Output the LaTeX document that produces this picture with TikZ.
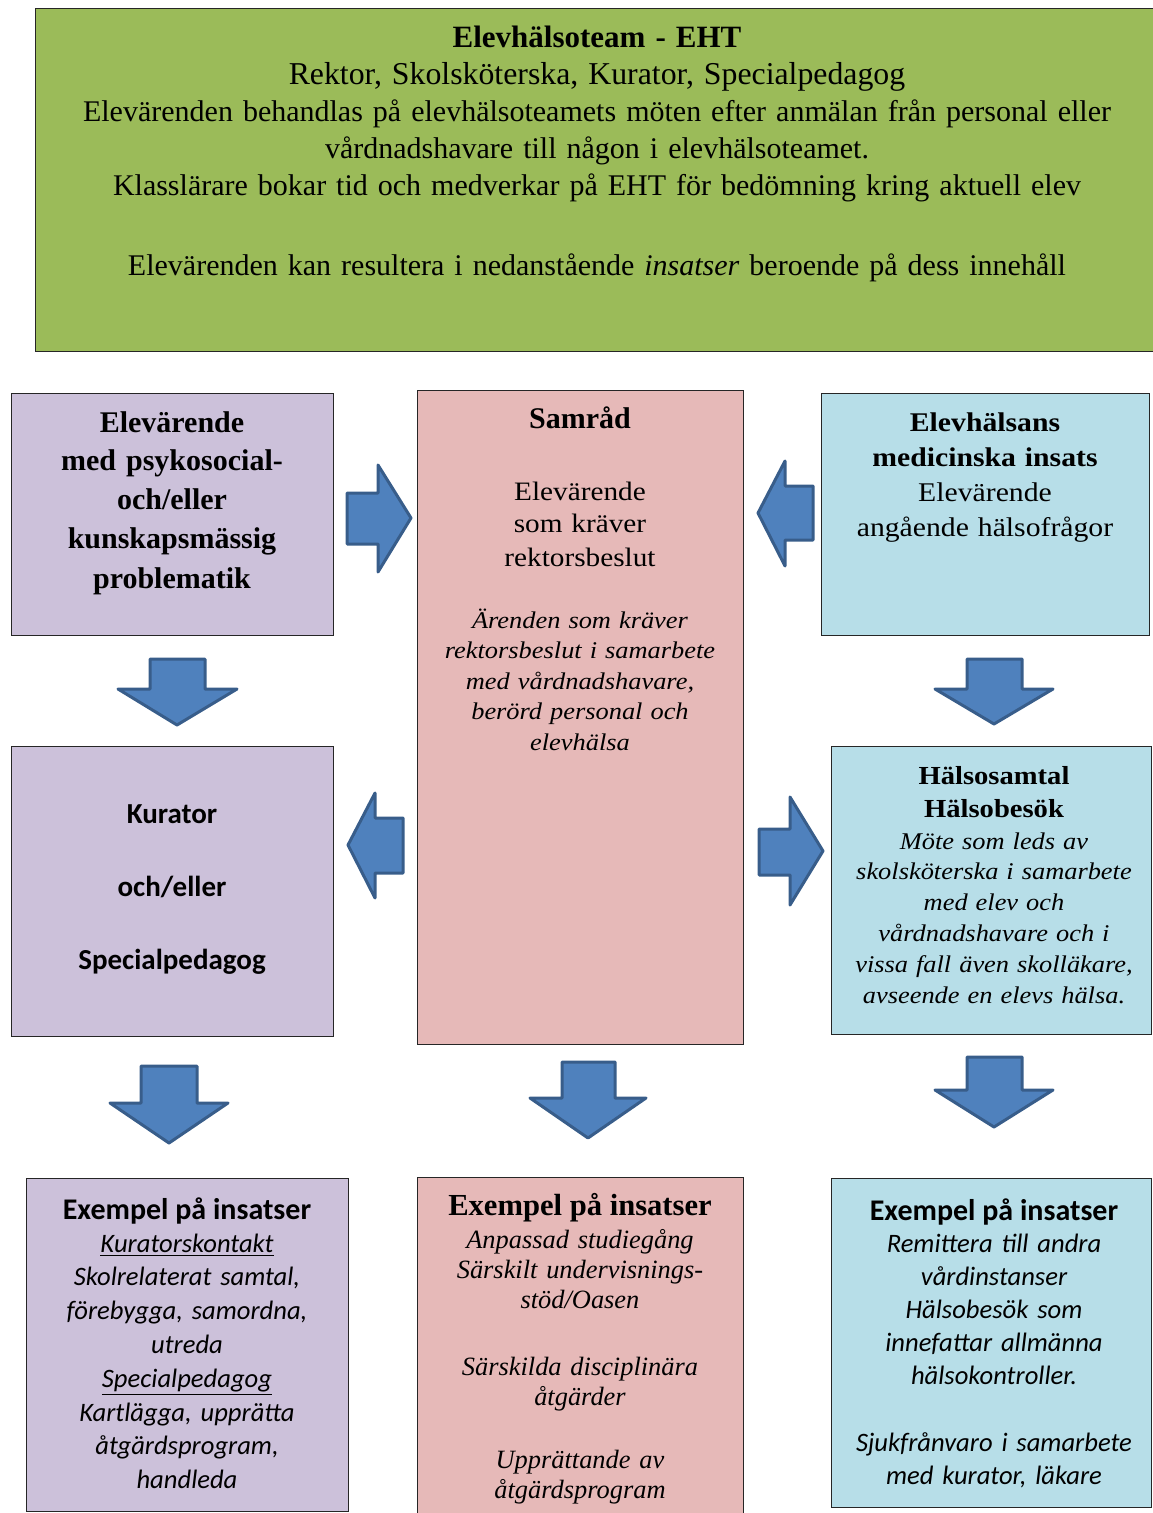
\documentclass[tikz,border=0pt]{standalone}
\usepackage{fontspec}
\setmainfont{Liberation Serif}
\newfontfamily\calfont{Carlito}
\newfontfamily\widefont[FakeStretch=1.1]{Liberation Serif}
\definecolor{ehtgreen}{HTML}{9BBB59}
\definecolor{lilac}{HTML}{CCC1DA}
\definecolor{rose}{HTML}{E6B9B8}
\definecolor{sky}{HTML}{B7DEE8}
\definecolor{arrowfill}{HTML}{4F81BD}
\definecolor{arrowline}{HTML}{385D8A}
\begin{document}
\begin{tikzpicture}[x=0.5pt,y=-0.5pt,
  box/.style={draw=black!85, line width=0.7pt, anchor=north west, inner sep=0pt},
  txt/.style={anchor=base, inner sep=0pt, align=center},
  blockarrow/.style={fill=arrowfill, draw=arrowline, line width=1.5pt, line join=round}]
\useasboundingbox (0,0) rectangle (1152,1513);
% boxes
\node[box, fill=ehtgreen, minimum width=562.5pt, minimum height=171.5pt] (top) at (35,8) {};
\node[box, fill=lilac, minimum width=161pt, minimum height=121pt] (left1) at (11,393) {};
\node[box, fill=rose, minimum width=163pt, minimum height=327pt] (mid) at (417,390) {};
\node[box, fill=sky, minimum width=164pt, minimum height=121pt] (right1) at (821,393) {};
\node[box, fill=lilac, minimum width=161pt, minimum height=145pt] (left2) at (11,746) {};
\node[box, fill=sky, minimum width=160pt, minimum height=144pt] (right2) at (831,746) {};
\node[box, fill=lilac, minimum width=161pt, minimum height=166.5pt] (botL) at (26,1178) {};
\node[box, fill=rose, minimum width=163pt, minimum height=180pt] (botM) at (417,1177) {};
\node[box, fill=sky, minimum width=160pt, minimum height=164.5pt] (botR) at (831,1178) {};
% block arrows
\draw[blockarrow] (347,493) -- (378,493) -- (378,465) -- (411,518) -- (378,572) -- (378,544) -- (347,544) -- cycle;
\draw[blockarrow] (758,513) -- (785,461) -- (785,486) -- (813,486) -- (813,540) -- (785,540) -- (785,566) -- cycle;
\draw[blockarrow] (150,659) -- (205,659) -- (205,689) -- (237,689) -- (177,725) -- (118,689) -- (150,689) -- cycle;
\draw[blockarrow] (967,659) -- (1022,659) -- (1022,689) -- (1053,689) -- (994,724) -- (935,689) -- (967,689) -- cycle;
\draw[blockarrow] (348,845) -- (375,793) -- (375,818) -- (403,818) -- (403,873) -- (375,873) -- (375,898) -- cycle;
\draw[blockarrow] (759,829) -- (790,829) -- (790,797) -- (823,851) -- (790,905) -- (790,875) -- (759,875) -- cycle;
\draw[blockarrow] (141,1066) -- (197,1066) -- (197,1103) -- (228,1103) -- (169,1143) -- (110,1103) -- (141,1103) -- cycle;
\draw[blockarrow] (562,1062) -- (615,1062) -- (615,1098) -- (646,1098) -- (588,1138) -- (530,1098) -- (562,1098) -- cycle;
\draw[blockarrow] (967,1057) -- (1022,1057) -- (1022,1090) -- (1053,1090) -- (994,1127) -- (935,1090) -- (967,1090) -- cycle;
% texts
\node[txt, text width=550pt, font={\fontsize{15pt}{18.5pt}\selectfont}] (toptext) at (597,48)
 {{\fontsize{15.5pt}{18.5pt}\selectfont\textbf{Elevhälsoteam - EHT}}\\
  {\fontsize{15.9pt}{18.5pt}\selectfont Rektor, Skolsköterska, Kurator, Specialpedagog}\\
  Elevärenden behandlas på elevhälsoteamets möten efter anmälan från personal eller\\
  vårdnadshavare till någon i elevhälsoteamet.\\
  Klasslärare bokar tid och medverkar på EHT för bedömning kring aktuell elev\\[21.5pt]
  Elevärenden kan resultera i nedanstående \textit{insatser} beroende på dess innehåll};
\node[txt, text width=155pt, font={\fontsize{15pt}{19.5pt}\selectfont\bfseries}] (left1text) at (172,432)
 {Elevärende\\ med psykosocial-\\ och/eller\\ kunskapsmässig\\ problematik};
\node[txt, font={\fontsize{15pt}{18pt}\selectfont\bfseries}] (midtitle) at (580,429) {Samråd};
\node[txt, text width=160pt, font={\widefont\fontsize{13.3pt}{16.5pt}\selectfont}] (midtext) at (580,500)
 {Elevärende\\ som kräver\\ rektorsbeslut};
\node[txt, text width=160pt, font={\widefont\itshape\fontsize{12pt}{15.25pt}\selectfont}] (miditalic) at (580,628)
 {Ärenden som kräver\\ rektorsbeslut i samarbete\\ med vårdnadshavare,\\ berörd personal och\\ elevhälsa};
\node[txt, text width=162pt, font={\widefont\fontsize{13.5pt}{17.5pt}\selectfont}] (right1text) at (985,431)
 {\textbf{Elevhälsans}\\ \textbf{medicinska insats}\\ Elevärende\\ angående hälsofrågor};
\node[txt, text width=158pt, font={\widefont\bfseries\fontsize{13pt}{16.5pt}\selectfont}] (right2title) at (994,784)
 {Hälsosamtal\\ Hälsobesök};
\node[txt, text width=158pt, font={\widefont\itshape\fontsize{12pt}{15.4pt}\selectfont}] (right2text) at (994,849)
 {Möte som leds av\\ skolsköterska i samarbete\\ med elev och\\ vårdnadshavare och i\\ vissa fall även skolläkare,\\ avseende en elevs hälsa.};
\node[txt, text width=155pt, font={\calfont\bfseries\fontsize{14.5pt}{18.25pt}\selectfont}] (left2text) at (172,823)
 {Kurator\\ ~\\ och/eller\\ ~\\ Specialpedagog};
\node[txt, font={\calfont\bfseries\fontsize{15pt}{18pt}\selectfont}] (botLtitle) at (187,1219) {Exempel på insatser};
\node[txt, text width=158pt, font={\calfont\itshape\fontsize{13.3pt}{16.9pt}\selectfont}] (botLtext) at (187,1252)
 {\underline{Kuratorskontakt}\\ Skolrelaterat samtal,\\ förebygga, samordna,\\ utreda\\ \underline{Specialpedagog}\\ Kartlägga, upprätta\\ åtgärdsprogram,\\ handleda};
\node[txt, font={\bfseries\fontsize{15.3pt}{18pt}\selectfont}] (botMtitle) at (580,1215) {Exempel på insatser};
\node[txt, text width=160pt, font={\itshape\fontsize{13.2pt}{15pt}\selectfont}] (botMtext) at (580,1248)
 {Anpassad studiegång\\ Särskilt undervisnings-\\ stöd/Oasen\\[18.75pt] Särskilda disciplinära\\ åtgärder\\[16.25pt] Upprättande av\\ åtgärdsprogram};
\node[txt, font={\calfont\bfseries\fontsize{15pt}{18pt}\selectfont}] (botRtitle) at (994,1220) {Exempel på insatser};
\node[txt, text width=158pt, font={\calfont\itshape\fontsize{13.3pt}{16.6pt}\selectfont}] (botRtext) at (994,1252)
 {Remittera till andra\\ vårdinstanser\\ Hälsobesök som\\ innefattar allmänna\\ hälsokontroller.\\ ~\\ Sjukfrånvaro i samarbete\\ med kurator, läkare};
\end{tikzpicture}
\end{document}
